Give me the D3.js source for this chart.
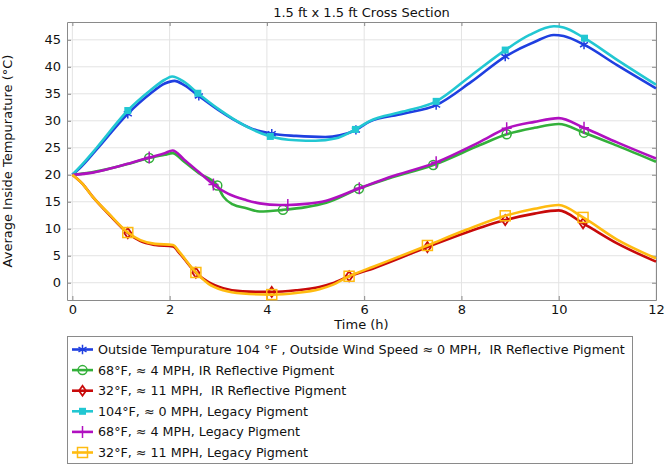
<!DOCTYPE html>
<html>
<head>
<meta charset="utf-8">
<script src="https://d3js.org/d3.v7.min.js"></script>
<style>
  body { margin: 0; background: #fff; }
  text { font-family: "DejaVu Sans", sans-serif; fill: #111; }
</style>
</head>
<body>
<div id="graph"></div>
<script>

// ---- data ----
var xTicks = [0, 2, 4, 6, 8, 10, 12];
var yTicks = [0, 5, 10, 15, 20, 25, 30, 35, 40, 45];

var seriesNames = [
  "Outside Tempurature 104 \u00b0F , Outside Wind Speed \u2248 0 MPH,  IR Reflective Pigment",
  "68\u00b0F, \u2248 4 MPH, IR Reflective Pigment",
  "32\u00b0F, \u2248 11 MPH,  IR Reflective Pigment",
  "104\u00b0F, \u2248 0 MPH, Legacy Pigment",
  "68\u00b0F, \u2248 4 MPH, Legacy Pigment",
  "32\u00b0F, \u2248 11 MPH, Legacy Pigment"
];
var seriesColors = ["#1f3fe0", "#33b03a", "#c80a0a", "#22c7d2", "#b010c0", "#ffbb10"];
var seriesMarkers = ["asterisk", "circle", "diamond", "filledSquare", "plus", "square"];

// IR 104F
var blueT = [0, 0.15, 0.5, 1.14, 1.6, 1.9, 2.1, 2.3, 2.6, 3.0, 3.3, 3.7, 4.1, 4.6, 5.2, 5.5, 5.83, 6.1, 6.8, 7.48, 8.2, 8.9, 9.5, 9.9, 10.1, 10.52, 11.2, 12];
var blueV = [20, 21.2, 24.7, 31.3, 35.0, 36.9, 37.4, 36.6, 34.6, 32.0, 30.3, 28.5, 27.6, 27.2, 27.0, 27.3, 28.3, 29.8, 31.3, 32.9, 37.2, 41.9, 44.6, 45.9, 45.7, 44.1, 40.3, 36.0];
var blueMarkT = [1.14, 2.6, 4.1, 5.83, 7.48, 8.9, 10.52];

// IR 68F
var greenT = [0, 0.3, 0.7, 1.1, 1.58, 1.9, 2.06, 2.3, 2.6, 2.98, 3.1, 3.3, 3.58, 3.85, 4.33, 4.8, 5.22, 5.89, 6.5, 7.42, 8.38, 8.93, 9.5, 10.0, 10.52, 11.2, 12];
var greenV = [20, 20.3, 21.0, 21.9, 23.1, 23.7, 24.0, 22.4, 20.3, 18.0, 16.0, 14.5, 13.8, 13.2, 13.5, 14.0, 14.8, 17.4, 19.3, 21.8, 25.5, 27.5, 28.7, 29.4, 27.8, 25.4, 22.4];
var greenMarkT = [1.58, 2.98, 4.33, 5.89, 7.42, 8.93, 10.52];

// IR 32F
var redT = [0, 0.2, 0.42, 0.77, 1.14, 1.4, 1.7, 2.07, 2.2, 2.54, 2.8, 3.1, 3.5, 4.1, 4.6, 5.08, 5.35, 5.69, 6.2, 7.3, 8.1, 8.9, 9.5, 10.0, 10.5, 11.2, 12];
var redV = [20, 18.4, 15.9, 12.5, 9.2, 7.7, 7.0, 6.7, 5.5, 1.85, 0.1, -1.0, -1.6, -1.7, -1.4, -0.8, -0.1, 1.2, 2.7, 6.6, 9.3, 11.6, 12.8, 13.4, 11.0, 7.3, 3.9];
var redMarkT = [1.14, 2.54, 4.1, 5.69, 7.3, 8.9, 10.5];

// legacy 104F
var cyanT = [0, 0.15, 0.5, 1.14, 1.6, 1.9, 2.05, 2.3, 2.58, 3.0, 3.3, 3.7, 4.07, 4.6, 5.0, 5.4, 5.82, 6.1, 6.8, 7.48, 8.2, 8.9, 9.4, 9.9, 10.1, 10.53, 11.2, 12];
var cyanV = [20, 21.4, 25.0, 31.9, 35.6, 37.6, 38.2, 37.2, 35.1, 32.2, 30.4, 28.4, 27.1, 26.4, 26.3, 26.7, 28.4, 29.9, 31.7, 33.6, 38.4, 43.1, 45.9, 47.5, 47.3, 45.3, 41.3, 36.7];
var cyanMarkT = [1.14, 2.58, 4.07, 5.82, 7.48, 8.9, 10.53];

// legacy 68F
var magentaT = [0, 0.42, 0.8, 1.2, 1.58, 1.9, 2.06, 2.3, 2.6, 2.9, 3.2, 3.58, 3.85, 4.26, 4.43, 4.8, 5.22, 5.9, 6.5, 7.48, 8.38, 8.93, 9.5, 10.0, 10.52, 11.2, 12];
var magentaV = [20, 20.4, 21.2, 22.2, 23.2, 24.0, 24.5, 22.8, 20.5, 18.2, 16.5, 15.3, 14.7, 14.4, 14.4, 14.6, 15.2, 17.5, 19.5, 22.3, 26.1, 28.6, 29.8, 30.5, 28.7, 26.0, 23.0];
var magentaMarkT = [1.58, 2.9, 4.43, 5.9, 7.48, 8.93, 10.52];

// legacy 32F
var orangeT = [0, 0.2, 0.42, 0.77, 1.14, 1.4, 1.7, 2.07, 2.2, 2.54, 2.8, 3.1, 3.5, 4.1, 4.6, 5.08, 5.35, 5.69, 6.2, 7.3, 8.1, 8.9, 9.5, 10.0, 10.5, 11.2, 12];
var orangeV = [20, 18.4, 15.9, 12.6, 9.3, 7.9, 7.2, 7.0, 5.7, 1.9, -0.2, -1.4, -2.0, -2.2, -1.9, -1.2, -0.4, 1.2, 3.0, 6.9, 9.8, 12.4, 13.7, 14.4, 12.1, 8.0, 4.5];
var orangeMarkT = [1.14, 2.54, 4.1, 5.69, 7.3, 8.9, 10.5];

var allT = [blueT, greenT, redT, cyanT, magentaT, orangeT];
var allV = [blueV, greenV, redV, cyanV, magentaV, orangeV];
var allMarkT = [blueMarkT, greenMarkT, redMarkT, cyanMarkT, magentaMarkT, orangeMarkT];

// ---- layout ----
var W = 666, H = 467;
var plot = {left: 67, right: 656, top: 22, bottom: 300};

var svg = d3.select("#graph").append("svg")
  .attr("width", W).attr("height", H);

var x = d3.scaleLinear().domain([-0.11, 12]).range([plot.left, plot.right]);
var y = d3.scaleLinear().domain([-3.2, 48.3]).range([plot.bottom, plot.top]);

// grid
svg.append("g").selectAll("line").data(xTicks).enter().append("line")
  .attr("x1", function(d){ return x(d); }).attr("x2", function(d){ return x(d); })
  .attr("y1", plot.top).attr("y2", plot.bottom)
  .attr("stroke", "#e3e3e3").attr("stroke-width", 1);
svg.append("g").selectAll("line").data(yTicks).enter().append("line")
  .attr("y1", function(d){ return y(d); }).attr("y2", function(d){ return y(d); })
  .attr("x1", plot.left).attr("x2", plot.right)
  .attr("stroke", "#e3e3e3").attr("stroke-width", 1);

// frame with inward ticks on all sides
function frameAxis(axis, tx, ty) {
  var g = svg.append("g").attr("transform", "translate(" + tx + "," + ty + ")").call(axis);
  g.select(".domain").attr("stroke", "#8a8a8a");
  g.selectAll(".tick line").attr("stroke", "#8a8a8a");
  g.selectAll("text").style("font-family", "DejaVu Sans").style("font-size", "13px").attr("fill", "#111");
  return g;
}
frameAxis(d3.axisBottom(x).tickValues(xTicks).tickSizeInner(-4).tickSizeOuter(0).tickPadding(5), 0, plot.bottom);
frameAxis(d3.axisLeft(y).tickValues(yTicks).tickSizeInner(-4).tickSizeOuter(0).tickPadding(6), plot.left, 0);
frameAxis(d3.axisTop(x).tickValues(xTicks).tickSizeInner(-4).tickSizeOuter(0).tickFormat(""), 0, plot.top);
frameAxis(d3.axisRight(y).tickValues(yTicks).tickSizeInner(-4).tickSizeOuter(0).tickFormat(""), plot.right, 0);

// titles
svg.append("text")
  .attr("x", (plot.left + plot.right) / 2).attr("y", 17)
  .attr("text-anchor", "middle").style("font-size", "13px")
  .text("1.5 ft x 1.5 ft Cross Section");
svg.append("text")
  .attr("x", (plot.left + plot.right) / 2).attr("y", 329)
  .attr("text-anchor", "middle").style("font-size", "13px")
  .text("Time (h)");
svg.append("text")
  .attr("transform", "translate(12,161) rotate(-90)")
  .attr("text-anchor", "middle").style("font-size", "13px")
  .text("Average Inside Tempurature (\u00b0C)");

// markers
function drawMarker(g, kind, color, cx, cy) {
  if (kind === "circle") {
    g.append("circle").attr("cx", cx).attr("cy", cy).attr("r", 4.5)
      .attr("fill", "none").attr("stroke", color).attr("stroke-width", 1.5);
  } else if (kind === "square") {
    g.append("rect").attr("x", cx - 5).attr("y", cy - 5).attr("width", 10).attr("height", 10)
      .attr("fill", "none").attr("stroke", color).attr("stroke-width", 1.5);
  } else if (kind === "filledSquare") {
    g.append("rect").attr("x", cx - 3.5).attr("y", cy - 3.5).attr("width", 7).attr("height", 7)
      .attr("fill", color);
  } else if (kind === "diamond") {
    g.append("path").attr("transform", "translate(" + cx + "," + cy + ")")
      .attr("d", "M0,-5L3.5,0L0,5L-3.5,0Z")
      .attr("fill", "none").attr("stroke", color).attr("stroke-width", 1.8);
  } else if (kind === "plus") {
    g.append("path").attr("transform", "translate(" + cx + "," + cy + ")")
      .attr("d", "M-5,0H5M0,-6V6")
      .attr("stroke", color).attr("stroke-width", 1.5);
  } else if (kind === "asterisk") {
    g.append("path").attr("transform", "translate(" + cx + "," + cy + ")")
      .attr("d", d3.symbol(d3.symbolAsterisk, 60)())
      .attr("fill", "none").attr("stroke", color).attr("stroke-width", 1.5);
  }
}

var line = d3.line().curve(d3.curveMonotoneX)
  .x(function(d){ return x(d[0]); }).y(function(d){ return y(d[1]); });

for (var i = 0; i < allT.length; i++) {
  var pts = allT[i].map(function(t, k){ return [t, allV[i][k]]; });
  var g = svg.append("g");
  g.append("path").datum(pts)
    .attr("d", line)
    .attr("fill", "none")
    .attr("stroke", seriesColors[i])
    .attr("stroke-width", 2.6)
    .attr("stroke-linejoin", "round");
  var marks = pts.filter(function(p){ return allMarkT[i].indexOf(p[0]) >= 0; });
  for (var m = 0; m < marks.length; m++) {
    drawMarker(g, seriesMarkers[i], seriesColors[i], x(marks[m][0]), y(marks[m][1]));
  }
}

// legend
var legend = svg.append("g");
legend.append("rect")
  .attr("x", 67.5).attr("y", 336.5).attr("width", 565).attr("height", 127)
  .attr("fill", "#fff").attr("stroke", "#8a8a8a").attr("stroke-width", 1);
var rowY = d3.scaleLinear().domain([0, 5]).range([349.5, 452.5]);
seriesNames.forEach(function(name, i) {
  var ly = rowY(i);
  legend.append("line").attr("x1", 72).attr("x2", 93).attr("y1", ly).attr("y2", ly)
    .attr("stroke", seriesColors[i]).attr("stroke-width", 2.6);
  drawMarker(legend, seriesMarkers[i], seriesColors[i], 82.5, ly);
  legend.append("text").attr("x", 98).attr("y", ly).attr("dy", "0.35em")
    .style("font-size", "12.7px").style("white-space", "pre")
    .text(name);
});

</script>
</body>
</html>
